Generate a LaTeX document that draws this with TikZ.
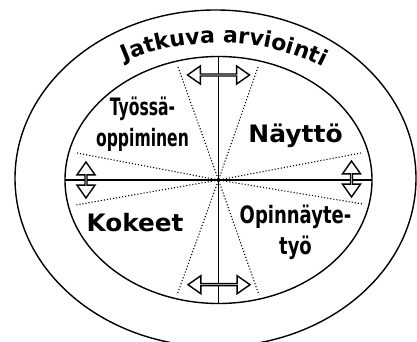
\documentclass[tikz,border=0pt]{standalone}
\usepackage{fontspec}
\newfontfamily\heavyfont{DejaVu Sans}[UprightFont=* Bold]
\usetikzlibrary{shapes.arrows,decorations.text}

\begin{document}
\begin{tikzpicture}[x=1pt,y=1pt,
  lbl/.style={font=\heavyfont\fontsize{24}{31}\selectfont,
        inner sep=0pt,align=center,anchor=base},
  dblarrow/.style={draw,fill=white,line width=1.4pt,shape=double arrow,
        double arrow head extend=5.5pt,double arrow tip angle=70,
        minimum width=18pt,inner sep=0pt},
  sector/.style={dotted,line width=1.1pt}]
  \useasboundingbox (0,0) rectangle (417,342);
  %% Ellipses
  \draw[line width=1.4pt] (215.5,163.6) ellipse[x radius=200.5,y radius=168.4];
  \draw[line width=1.4pt] (218.5,162) ellipse[x radius=153.5,y radius=123.5];
  \coordinate (c) at (218.5,162);
  %% Axes
  \coordinate (n) at (218.5,285.5);
  \coordinate (s) at (218.5,38.5);
  \coordinate (w) at (65,162);
  \coordinate (e) at (372,162);
  \draw[line width=1.4pt] (n) -- (s);
  \draw[line width=1.4pt] (w) -- (e);
  %% Dotted sector lines
  \draw[sector] (178,275) -- (c) -- (259,47);
  \draw[sector] (258,275) -- (c) -- (177,47);
  \draw[sector] (77,189) -- (c) -- (363,138);
  \draw[sector] (361,189) -- (c) -- (76,137);
  %% Double arrows
  \node[dblarrow,minimum height=62pt] (atop) at (218.5,267) {};
  \node[dblarrow,minimum height=62pt] (abot) at (219,57.3) {};
  \node[dblarrow,minimum height=36pt,rotate=90] (aleft) at (86,162) {};
  \node[dblarrow,minimum height=36pt,rotate=90] (aright) at (351.5,163) {};
  %% Curved title
  \path[decorate,decoration={text along path,text align=center,
        text={|\heavyfont\fontsize{22}{22}\selectfont|Jatkuva arviointi}}]
        (c) ++(122:185 and 137) arc[start angle=122,end angle=54,x radius=185,y radius=137];
  %% Labels
  \node[lbl,xscale=0.65] (tyo) at (142.5,195) {Työssä-\\oppiminen};
  \node[lbl,xscale=1.04] (nay) at (295.5,199) {Näyttö};
  \node[lbl,xscale=1.03] (kok) at (135,110) {Kokeet};
  \node[lbl,xscale=0.75] (opi) at (295.5,87) {Opinnäyte-\\työ};
\end{tikzpicture}
\end{document}
